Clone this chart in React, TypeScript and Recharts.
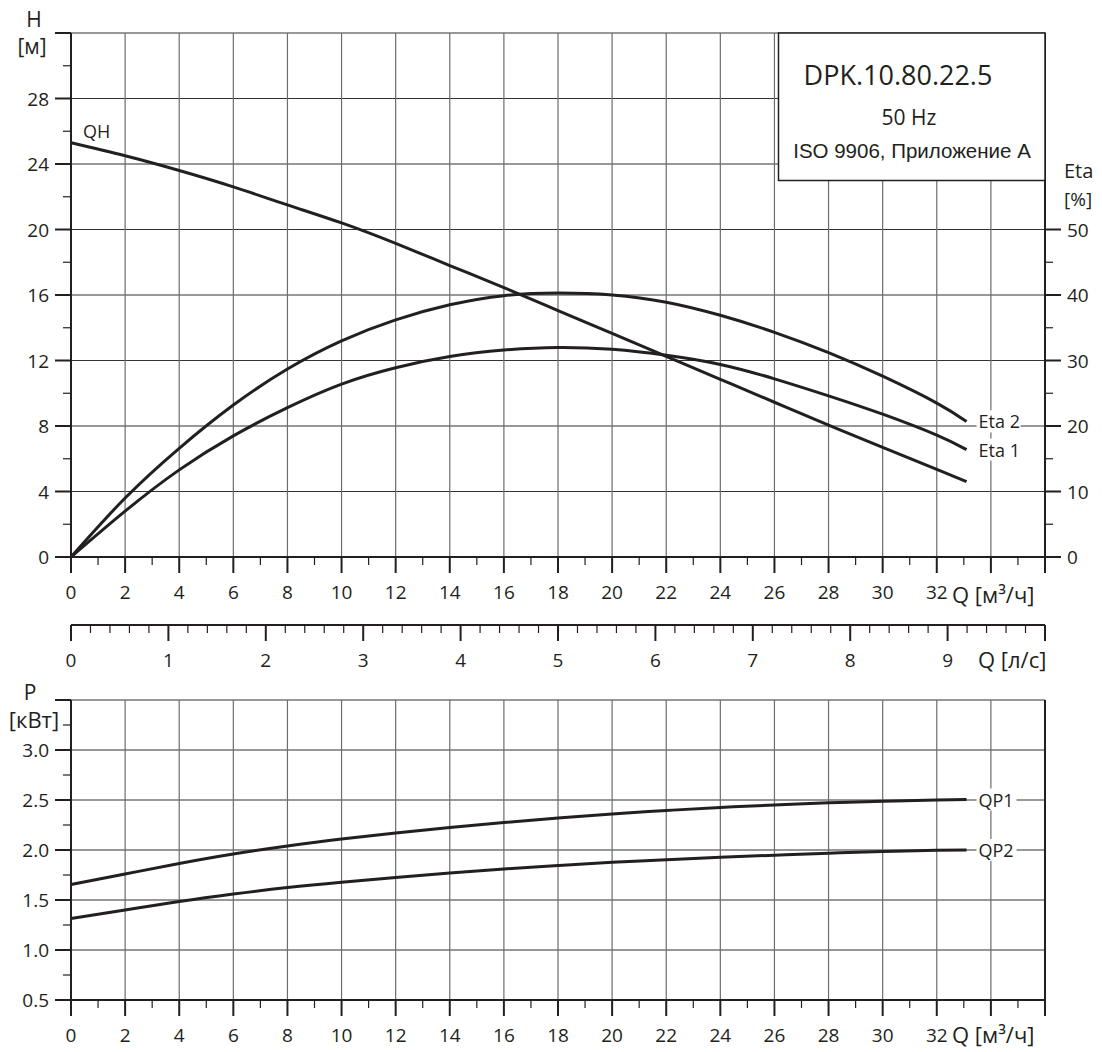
import { LineChart, Line, XAxis, YAxis, CartesianGrid } from "recharts";

const INK = "#231f20";
const FONT = "'Open Sans', sans-serif";

// расход, м³/ч
const Q = [0, 2, 4, 6, 8, 10, 12, 14, 16, 18, 20, 22, 24, 26, 28, 30, 32, 33.1];
// напор, м
const QH = [25.3, 24.5, 23.6, 22.6, 21.5, 20.4, 19.15, 17.8, 16.45, 15.05, 13.65, 12.25, 10.85, 9.45, 8.05, 6.7, 5.35, 4.6];
// КПД, %
const ETA1 = [0, 7.0, 13.3, 18.5, 22.8, 26.4, 28.9, 30.6, 31.6, 32.0, 31.7, 30.8, 29.4, 27.2, 24.6, 21.8, 18.6, 16.4];
const ETA2 = [0, 9.0, 16.6, 23.2, 28.7, 33.0, 36.2, 38.5, 39.9, 40.3, 40.0, 38.9, 36.9, 34.3, 31.2, 27.6, 23.5, 20.7];
// мощность, кВт
const QP1 = [1.655, 1.76, 1.865, 1.96, 2.04, 2.11, 2.17, 2.225, 2.275, 2.32, 2.36, 2.395, 2.425, 2.45, 2.472, 2.488, 2.5, 2.505];
const QP2 = [1.315, 1.4, 1.485, 1.56, 1.625, 1.678, 1.725, 1.77, 1.81, 1.845, 1.877, 1.903, 1.927, 1.948, 1.968, 1.985, 1.997, 2.0];

// оси
const Q_TICKS = [0, 1, 2, 3, 4, 5, 6, 7, 8, 9, 10, 11, 12, 13, 14, 15, 16, 17, 18, 19, 20, 21, 22, 23, 24, 25, 26, 27, 28, 29, 30, 31, 32, 33, 34, 35, 36];
const Q_LABELS = [0, 2, 4, 6, 8, 10, 12, 14, 16, 18, 20, 22, 24, 26, 28, 30, 32];
const Q_GRID = [2, 4, 6, 8, 10, 12, 14, 16, 18, 20, 22, 24, 26, 28, 30, 32, 34];
const H_TICKS = [0, 2, 4, 6, 8, 10, 12, 14, 16, 18, 20, 22, 24, 26, 28, 30, 32];
const H_LABELS = [0, 4, 8, 12, 16, 20, 24, 28];
const H_GRID = [4, 8, 12, 16, 20, 24, 28, 32];
const ETA_TICKS = [0, 5, 10, 15, 20, 25, 30, 35, 40, 45, 50];
const ETA_LABELS = [0, 10, 20, 30, 40, 50];
const LS_TICKS = [
  0, 0.2, 0.4, 0.6, 0.8, 1, 1.2, 1.4, 1.6, 1.8, 2, 2.2, 2.4, 2.6, 2.8, 3, 3.2, 3.4, 3.6, 3.8,
  4, 4.2, 4.4, 4.6, 4.8, 5, 5.2, 5.4, 5.6, 5.8, 6, 6.2, 6.4, 6.6, 6.8, 7, 7.2, 7.4, 7.6, 7.8,
  8, 8.2, 8.4, 8.6, 8.8, 9, 9.2, 9.4, 9.6, 9.8, 10,
];
const LS_LABELS = [0, 1, 2, 3, 4, 5, 6, 7, 8, 9];
const P_TICKS = [0.5, 0.75, 1, 1.25, 1.5, 1.75, 2, 2.25, 2.5, 2.75, 3, 3.25, 3.5];
const P_LABELS = [0.5, 1, 1.5, 2, 2.5, 3];
const P_GRID = [1, 1.5, 2, 2.5, 3, 3.5];

const topData = Q.map((q, i) => ({ q, qh: QH[i], eta1: ETA1[i], eta2: ETA2[i] }));
const powerData = Q.map((q, i) => ({ q, qp1: QP1[i], qp2: QP2[i] }));
const lsData = LS_LABELS.map((ls) => ({ ls }));

const isMajor = (v: number, step: number) => Math.abs(v / step - Math.round(v / step)) < 1e-6;

// нижняя ось: длинные штрихи на основных делениях, короткие на промежуточных
const bottomTick = (step: number, labels: number[]) => (p: any) => {
  const { x, y, payload } = p;
  const v = payload.value;
  const major = isMajor(v, step);
  return (
    <g>
      <line x1={x} x2={x} y1={y} y2={y + (major ? 16 : 8)} stroke={INK} strokeWidth={major ? 2 : 1.2} />
      {major && labels.some((l) => Math.abs(l - v) < 1e-6) && (
        <text x={x} y={y + 42} textAnchor="middle" fontSize={19} fill={INK} fontFamily={FONT}>
          {v}
        </text>
      )}
    </g>
  );
};

const sideTick = (step: number, labels: number[], side: "left" | "right", fmt: (v: number) => string) => (p: any) => {
  const { x, y, payload } = p;
  const v = payload.value;
  const major = isMajor(v, step);
  const dir = side === "left" ? -1 : 1;
  const show = labels.some((l) => Math.abs(l - v) < 1e-6);
  return (
    <g>
      <line x1={x} x2={x + dir * (major ? 16 : 8)} y1={y} y2={y} stroke={INK} strokeWidth={major ? 2 : 1.2} />
      {show && (
        <text
          x={x + dir * 22}
          y={y + 7}
          textAnchor={side === "left" ? "end" : "start"}
          fontSize={19}
          fill={INK}
          fontFamily={FONT}
        >
          {fmt(v)}
        </text>
      )}
    </g>
  );
};

// подпись у конца кривой, на белой подложке поверх сетки
const endLabel = (text: string, w: number) => (p: any) => {
  const { x, y, index } = p;
  if (index !== Q.length - 1) return <g />;
  return (
    <g>
      <rect x={x + 10} y={y - 11} width={w} height={22} fill="#fff" />
      <text x={x + 12} y={y + 7} fontSize={18} fill={INK} fontFamily={FONT}>
        {text}
      </text>
    </g>
  );
};

const startLabel = (text: string) => (p: any) => {
  const { x, y, index } = p;
  if (index !== 0) return <g />;
  return (
    <text x={x + 12} y={y - 5} fontSize={18} fill={INK} fontFamily={FONT}>
      {text}
    </text>
  );
};

export default function App() {
  return (
    <div style={{ position: "absolute", left: 0, top: 0, width: 1102, height: 1052, background: "#fff", fontFamily: FONT }}>
      {/* H, Eta */}
      <div style={{ position: "absolute", left: 0, top: 0 }}>
        <LineChart width={1102} height={610} data={topData} margin={{ top: 33, right: 0, bottom: 0, left: 0 }}>
          <CartesianGrid yAxisId="h" vertical={false} horizontalValues={H_GRID} stroke="#333" strokeWidth={1.2} />
          <CartesianGrid yAxisId="h" horizontal={false} verticalValues={Q_GRID} stroke="#6d6d6d" strokeWidth={1.2} />
          <XAxis
            dataKey="q"
            type="number"
            domain={[0, 36]}
            ticks={Q_TICKS}
            interval={0}
            height={53}
            tickSize={0}
            tickMargin={0}
            tickLine={false}
            axisLine={{ stroke: INK, strokeWidth: 2 }}
            tick={bottomTick(2, Q_LABELS)}
          />
          <YAxis
            yAxisId="h"
            type="number"
            domain={[0, 32]}
            ticks={H_TICKS}
            interval={0}
            width={71}
            tickSize={0}
            tickMargin={0}
            tickLine={false}
            axisLine={{ stroke: INK, strokeWidth: 2 }}
            tick={sideTick(4, H_LABELS, "left", (v) => String(v))}
          />
          <YAxis
            yAxisId="eta"
            orientation="right"
            type="number"
            domain={[0, 80]}
            ticks={ETA_TICKS}
            interval={0}
            width={57}
            tickSize={0}
            tickMargin={0}
            tickLine={false}
            axisLine={{ stroke: INK, strokeWidth: 2 }}
            tick={sideTick(10, ETA_LABELS, "right", (v) => String(v))}
          />
          <Line yAxisId="h" dataKey="qh" type="natural" stroke={INK} strokeWidth={3} dot={false} activeDot={false} isAnimationActive={false} label={startLabel("QH")} />
          <Line yAxisId="eta" dataKey="eta1" type="natural" stroke={INK} strokeWidth={3} dot={false} activeDot={false} isAnimationActive={false} label={endLabel("Eta 1", 44)} />
          <Line yAxisId="eta" dataKey="eta2" type="natural" stroke={INK} strokeWidth={3} dot={false} activeDot={false} isAnimationActive={false} label={endLabel("Eta 2", 44)} />
        </LineChart>
      </div>

      {/* Q, л/с */}
      <div style={{ position: "absolute", left: 0, top: 610 }}>
        <LineChart width={1102} height={72} data={lsData} margin={{ top: 5, right: 57, bottom: 0, left: 71 }}>
          <XAxis
            dataKey="ls"
            type="number"
            domain={[0, 10]}
            ticks={LS_TICKS}
            interval={0}
            height={57}
            tickSize={0}
            tickMargin={0}
            tickLine={false}
            axisLine={{ stroke: INK, strokeWidth: 2 }}
            tick={bottomTick(1, LS_LABELS)}
          />
          <YAxis hide domain={[0, 1]} />
        </LineChart>
      </div>

      {/* P */}
      <div style={{ position: "absolute", left: 0, top: 670 }}>
        <LineChart width={1102} height={382} data={powerData} margin={{ top: 30, right: 0, bottom: 0, left: 0 }}>
          <CartesianGrid yAxisId="p" vertical={false} horizontalValues={P_GRID} stroke="#333" strokeWidth={1.2} />
          <CartesianGrid yAxisId="p" horizontal={false} verticalValues={Q_GRID} stroke="#6d6d6d" strokeWidth={1.2} />
          <XAxis
            dataKey="q"
            type="number"
            domain={[0, 36]}
            ticks={Q_TICKS}
            interval={0}
            height={52}
            tickSize={0}
            tickMargin={0}
            tickLine={false}
            axisLine={{ stroke: INK, strokeWidth: 2 }}
            tick={bottomTick(2, Q_LABELS)}
          />
          <YAxis
            yAxisId="p"
            type="number"
            domain={[0.5, 3.5]}
            ticks={P_TICKS}
            interval={0}
            width={71}
            tickSize={0}
            tickMargin={0}
            tickLine={false}
            axisLine={{ stroke: INK, strokeWidth: 2 }}
            tick={sideTick(0.5, P_LABELS, "left", (v) => v.toFixed(1))}
          />
          <YAxis yAxisId="r" orientation="right" width={57} domain={[0, 1]} tick={false} tickLine={false} axisLine={{ stroke: INK, strokeWidth: 2 }} />
          <Line yAxisId="p" dataKey="qp1" type="natural" stroke={INK} strokeWidth={3} dot={false} activeDot={false} isAnimationActive={false} label={endLabel("QP1", 40)} />
          <Line yAxisId="p" dataKey="qp2" type="natural" stroke={INK} strokeWidth={3} dot={false} activeDot={false} isAnimationActive={false} label={endLabel("QP2", 40)} />
        </LineChart>
      </div>

      {/* подписи осей и табличка */}
      <svg width={1102} height={1052} style={{ position: "absolute", left: 0, top: 0, pointerEvents: "none" }}>
        <g fill={INK} fontFamily={FONT}>
          <text x={34} y={27} fontSize={21} textAnchor="middle">H</text>
          <text x={32} y={54} fontSize={21} textAnchor="middle">[м]</text>
          <text x={1064} y={178} fontSize={20}>Eta</text>
          <text x={1064} y={206} fontSize={19}>[%]</text>
          <text x={952} y={603} fontSize={22}>Q [м³/ч]</text>
          <text x={978} y={668} fontSize={22}>Q [л/с]</text>
          <text x={30} y={700} fontSize={21} textAnchor="middle">P</text>
          <text x={34} y={728} fontSize={22} textAnchor="middle">[кВт]</text>
          <text x={952} y={1043} fontSize={22}>Q [м³/ч]</text>
        </g>
        <rect x={778.5} y={33} width={266.5} height={147.5} fill="#fff" stroke={INK} strokeWidth={1.5} />
        <g fill={INK} textAnchor="middle">
          <text x={898} y={85} fontSize={27} fontFamily={FONT}>DPK.10.80.22.5</text>
          <text x={909} y={125} fontSize={21} fontFamily={FONT}>50 Hz</text>
          <text x={912} y={158} fontSize={20.5} fontFamily="'Liberation Sans', Arial, sans-serif">ISO 9906, Приложение А</text>
        </g>
      </svg>
    </div>
  );
}
